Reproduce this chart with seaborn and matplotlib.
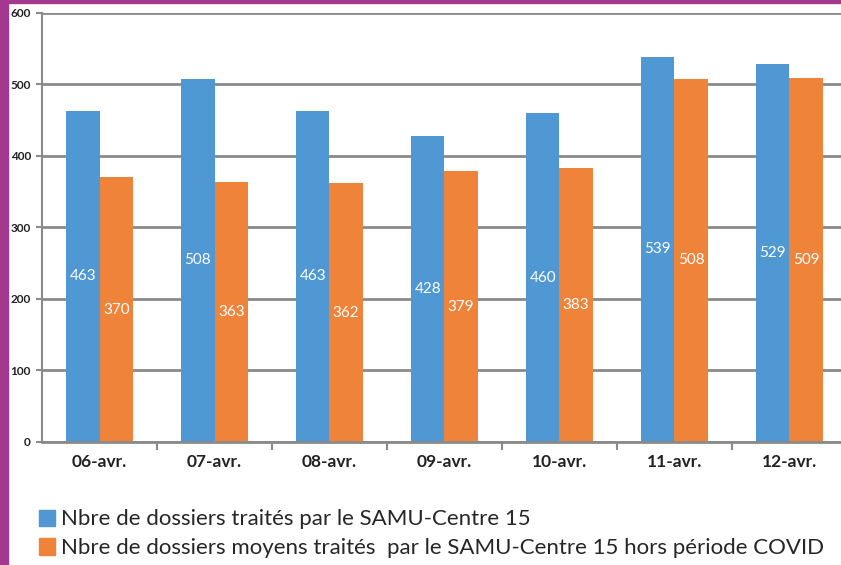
import matplotlib
matplotlib.use("Agg")
import matplotlib.pyplot as plt
import seaborn as sns
import pandas as pd
from matplotlib.patches import Rectangle

categories = ["06-avr.", "07-avr.", "08-avr.", "09-avr.", "10-avr.", "11-avr.", "12-avr."]
samu = [463, 508, 463, 428, 460, 539, 529]
moyen = [370, 363, 362, 379, 383, 508, 509]
series_names = ["Nbre de dossiers traités par le SAMU-Centre 15",
                "Nbre de dossiers moyens traités  par le SAMU-Centre 15 hors période COVID"]
yticks = [0, 100, 200, 300, 400, 500, 600]

df = pd.DataFrame({
    "date": categories * 2,
    "value": samu + moyen,
    "serie": [series_names[0]] * len(categories) + [series_names[1]] * len(categories),
})

sns.set_theme(style="white")
plt.rcParams["font.family"] = ["Lato", "DejaVu Sans"]

colors = ["#4F98D4", "#F0833A"]
fig = plt.figure(figsize=(8.41, 5.65), dpi=100)
ax = fig.add_axes([0.050, 0.2177, 0.957, 0.7593])
sns.barplot(data=df, x="date", y="value", hue="serie", palette=colors,
            width=0.58, ax=ax, legend=False, saturation=1, linewidth=0, edgecolor="none")

ax.set_ylim(0, 600)
ax.set_xlim(-0.5, 6.5)
ax.set_yticks(yticks)
ax.set_yticklabels([str(t) for t in yticks], fontsize=8.5, fontweight="bold", color="#222222")
ax.set_xticks(range(len(categories)))
ax.set_xticklabels(categories, fontsize=12.5, fontweight="bold", color="#222222")
ax.set_xlabel("")
ax.set_ylabel("")
ax.yaxis.grid(True, color="#8a8a8a", linewidth=2)
ax.set_axisbelow(True)
for s in ["top", "right"]:
    ax.spines[s].set_visible(False)
ax.spines["left"].set_color("#8a8a8a")
ax.spines["left"].set_linewidth(1.5)
ax.spines["bottom"].set_color("#8a8a8a")
ax.spines["bottom"].set_linewidth(2)
ax.tick_params(axis="y", length=4, width=1.5, color="#8a8a8a", pad=4, left=True)
# x ticks at category boundaries
ax.set_xticks([i + 0.5 for i in range(len(categories) - 1)], minor=True)
ax.tick_params(axis="x", which="major", length=0, pad=9)
ax.tick_params(axis="x", which="minor", length=6, width=1.5, color="#8a8a8a", bottom=True)

for cont in ax.containers:
    for bar in cont:
        h = bar.get_height()
        ax.text(bar.get_x() + bar.get_width() / 2, h / 2, f"{int(round(h))}",
                ha="center", va="center", color="white", fontsize=11)

handles = [Rectangle((0, 0), 1, 1, color=c) for c in colors]
fig.legend(handles, series_names, loc="upper left", bbox_to_anchor=(0.0355, 0.114),
           frameon=False, fontsize=16, handlelength=0.75, handleheight=0.75,
           handletextpad=0.25, labelspacing=0.4, borderaxespad=0)

# purple frame
fig.patches.append(Rectangle((0, 0), 8 / 841, 1, transform=fig.transFigure,
                             color="#A3398E", zorder=10))
fig.patches.append(Rectangle((0, 1 - 3 / 565), 1, 3 / 565, transform=fig.transFigure,
                             color="#A3398E", zorder=10))

fig.savefig("out.png", dpi=100)
